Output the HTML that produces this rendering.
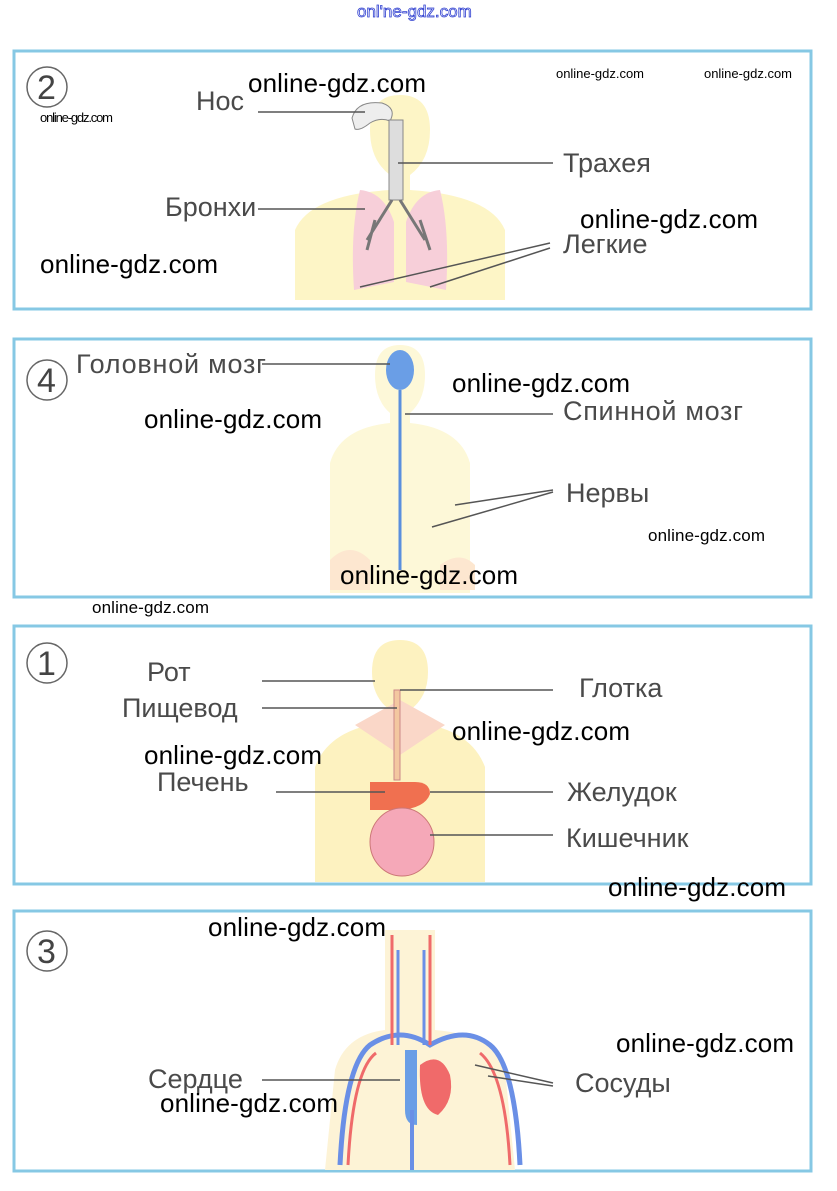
<!DOCTYPE html>
<html><head><meta charset="utf-8"><style>
html,body{margin:0;padding:0;background:#fff;}
svg{display:block;}
.lb{font-family:"Liberation Sans",sans-serif;font-size:27px;fill:#4a4a4a;}
.wm{font-family:"Liberation Sans",sans-serif;font-size:26px;fill:#000;}
.ws{font-family:"Liberation Sans",sans-serif;font-size:13px;fill:#000;}
.wm2{font-family:"Liberation Sans",sans-serif;font-size:17px;fill:#000;}
.num{font-family:"Liberation Sans",sans-serif;font-size:34px;fill:#444;}
.ln{stroke:#555;stroke-width:1.5;fill:none;}
.box{fill:none;stroke:#86c8e4;stroke-width:3;}
</style></head><body>
<svg width="837" height="1191" viewBox="0 0 837 1191" xmlns="http://www.w3.org/2000/svg">
<rect width="837" height="1191" fill="#fff"/>
<text x="357" y="17" font-family="Liberation Sans,sans-serif" font-size="17" fill="#fff" stroke="#3040d0" stroke-width="0.8">onl'ne-gdz.com</text>

<!-- Panel 1 : respiratory -->
<rect class="box" x="14" y="51" width="797" height="258"/>
<path d="M400 95 q-30 0 -30 35 q0 30 20 45 v15 q-80 5 -95 40 v70 h210 v-70 q-15 -35 -95 -40 v-15 q20 -15 20 -45 q0 -35 -30 -35z" fill="#fdf5c6"/>
<path d="M360 190 q-10 40 -6 100 l40 -8 v-60 q-10 -30 -34 -32z M440 190 q10 40 6 100 l-40 -8 v-60 q10 -30 34 -32z" fill="#f7cfd9"/>
<path d="M352 118 q5 -18 30 -15 q15 5 8 18 q-10 -4 -20 2 q-10 8 -15 6z" fill="#eee" stroke="#888"/>
<rect x="389" y="120" width="14" height="80" fill="#ddd" stroke="#888"/>
<path d="M392 200 l-25 40 M400 200 l25 40 M375 220 l-8 30 M420 220 l10 30" stroke="#777" stroke-width="3" fill="none"/>
<circle cx="47" cy="87" r="20" fill="none" stroke="#666" stroke-width="1.5"/>
<text class="num" x="37" y="99">2</text>
<text class="lb" x="196" y="110">Нос</text><line class="ln" x1="258" y1="112" x2="365" y2="112"/>
<text class="lb" x="563" y="172">Трахея</text><line class="ln" x1="398" y1="163" x2="553" y2="163"/>
<text class="lb" x="165" y="216">Бронхи</text><line class="ln" x1="258" y1="209" x2="365" y2="209"/>
<text class="lb" x="563" y="253">Легкие</text>
<line class="ln" x1="550" y1="243" x2="360" y2="287"/><line class="ln" x1="550" y1="248" x2="430" y2="287"/>

<!-- Panel 2 : nervous -->
<rect class="box" x="14" y="339" width="797" height="258"/>
<path d="M400 345 q-25 0 -25 30 q0 25 15 38 v10 q-50 5 -60 40 v130 h140 v-130 q-10 -35 -60 -40 v-10 q15 -13 15 -38 q0 -30 -25 -30z" fill="#fdf8d8"/>
<path d="M330 560 q20 -20 40 0 v30 h-40z M440 565 q20 -15 35 0 v25 h-35z" fill="#fde7d0"/>
<ellipse cx="400" cy="370" rx="14" ry="20" fill="#6a9ee6"/>
<line x1="400" y1="390" x2="400" y2="570" stroke="#5a8fde" stroke-width="3"/>
<circle cx="47" cy="380" r="20" fill="none" stroke="#666" stroke-width="1.5"/>
<text class="num" x="37" y="392">4</text>
<text class="lb" x="76" y="373" textLength="190">Головной мозг</text><line class="ln" x1="262" y1="364" x2="390" y2="364"/>
<text class="lb" x="563" y="420" textLength="180">Спинной мозг</text><line class="ln" x1="405" y1="414" x2="553" y2="414"/>
<text class="lb" x="566" y="502">Нервы</text>
<line class="ln" x1="553" y1="490" x2="455" y2="505"/><line class="ln" x1="553" y1="492" x2="432" y2="527"/>

<!-- Panel 3 : digestive -->
<rect class="box" x="14" y="626" width="797" height="258"/>
<path d="M400 640 q-28 0 -28 32 q0 25 18 38 v12 q-60 5 -75 45 v115 h170 v-115 q-15 -40 -75 -45 v-12 q18 -13 18 -38 q0 -32 -28 -32z" fill="#fdf2c0"/>
<path d="M355 725 l45 -25 l45 25 l-45 30z" fill="#fad7c8"/>
<rect x="394" y="690" width="6" height="90" fill="#f3c7a0" stroke="#c88"/>
<path d="M370 782 h45 q15 0 15 12 q-5 14 -30 16 h-30z" fill="#f07050"/>
<ellipse cx="402" cy="842" rx="32" ry="34" fill="#f5a8b8" stroke="#c77" />
<circle cx="47" cy="663" r="20" fill="none" stroke="#666" stroke-width="1.5"/>
<text class="num" x="37" y="675">1</text>
<text class="lb" x="147" y="681">Рот</text><line class="ln" x1="262" y1="681" x2="375" y2="681"/>
<text class="lb" x="579" y="697">Глотка</text><line class="ln" x1="400" y1="690" x2="553" y2="690"/>
<text class="lb" x="122" y="717">Пищевод</text><line class="ln" x1="262" y1="708" x2="397" y2="708"/>
<text class="lb" x="157" y="791">Печень</text><line class="ln" x1="276" y1="792" x2="385" y2="792"/>
<text class="lb" x="567" y="801">Желудок</text><line class="ln" x1="430" y1="792" x2="553" y2="792"/>
<text class="lb" x="566" y="847">Кишечник</text><line class="ln" x1="430" y1="835" x2="553" y2="835"/>

<!-- Panel 4 : circulatory -->
<rect class="box" x="14" y="911" width="797" height="260"/>
<path d="M385 930 h50 v100 q60 5 70 40 l10 100 h-190 l10 -100 q10 -35 50 -40z" fill="#fdf3d6"/>
<path d="M340 1165 q5 -100 30 -120 q30 -20 60 0 q35 -20 60 0 q25 20 30 120" fill="none" stroke="#6a8fe6" stroke-width="5"/>
<path d="M348 1165 q5 -95 28 -112 M480 1053 q25 20 30 112" fill="none" stroke="#ef6a6a" stroke-width="3"/>
<path d="M392 935 v110 M430 935 v110" stroke="#ef6a6a" stroke-width="3"/>
<path d="M398 950 v95 M424 950 v95" stroke="#6a8fe6" stroke-width="3"/>
<path d="M405 1050 v60 q0 15 12 15 v-75z" fill="#6a9ee6"/>
<path d="M420 1065 q20 -15 30 10 q5 25 -12 40 q-20 -5 -18 -50z" fill="#f06a6a"/>
<line x1="412" y1="1110" x2="412" y2="1170" stroke="#6a8fe6" stroke-width="4"/>
<circle cx="47" cy="951" r="20" fill="none" stroke="#666" stroke-width="1.5"/>
<text class="num" x="37" y="963">3</text>
<text class="lb" x="148" y="1088">Сердце</text><line class="ln" x1="262" y1="1080" x2="400" y2="1080"/>
<text class="lb" x="575" y="1092">Сосуды</text>
<line class="ln" x1="553" y1="1083" x2="475" y2="1065"/><line class="ln" x1="553" y1="1086" x2="488" y2="1076"/>

<!-- watermarks -->
<text class="wm" x="248" y="92" textLength="178">online-gdz.com</text>
<text class="ws" x="556" y="78" textLength="88">online-gdz.com</text>
<text class="ws" x="704" y="78" textLength="88">online-gdz.com</text>
<text class="ws" x="40" y="122" textLength="73">online-gdz.com</text>
<text class="wm" x="580" y="228" textLength="178">online-gdz.com</text>
<text class="wm" x="40" y="273" textLength="178">online-gdz.com</text>
<text class="wm" x="452" y="392" textLength="178">online-gdz.com</text>
<text class="wm" x="144" y="428" textLength="178">online-gdz.com</text>
<text class="wm2" x="648" y="541" textLength="117">online-gdz.com</text>
<text class="wm" x="340" y="584" textLength="178">online-gdz.com</text>
<text class="wm2" x="92" y="613" textLength="117">online-gdz.com</text>
<text class="wm" x="452" y="740" textLength="178">online-gdz.com</text>
<text class="wm" x="144" y="764" textLength="178">online-gdz.com</text>
<text class="wm" x="608" y="896" textLength="178">online-gdz.com</text>
<text class="wm" x="208" y="936" textLength="178">online-gdz.com</text>
<text class="wm" x="616" y="1052" textLength="178">online-gdz.com</text>
<text class="wm" x="160" y="1112" textLength="178">online-gdz.com</text>
</svg>
</body></html>
